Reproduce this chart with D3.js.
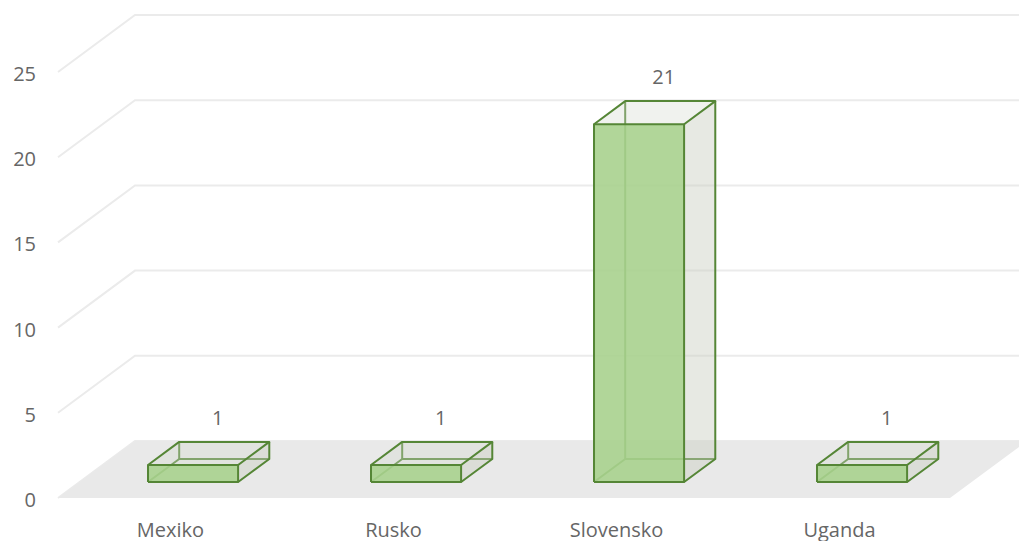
<!DOCTYPE html>
<html><head><meta charset="utf-8">
<script src="https://cdn.jsdelivr.net/npm/d3@7"></script>
<style>html,body{margin:0;padding:0;background:#fff;}svg{display:block;}</style>
</head><body>
<svg id="chart" width="1019" height="541"></svg>
<script>
const categories = ["Mexiko", "Rusko", "Slovensko", "Uganda"];
const values = [1, 1, 21, 1];
const yTicks = [0, 5, 10, 15, 20, 25];
const valueLabels = ["1", "1", "21", "1"];

const W = 1019, H = 541;
const svg = d3.select("#chart");
const DX = 77, DY = -57;          // depth projection of the floor
const Z0 = 0.28, Z1 = 0.685;       // bar depth range (fraction of floor)
const FONT = "'Open Sans', sans-serif";
const TEXT = "#666666";

const x = d3.scaleBand().domain(categories).range([58, 950])
  .paddingInner(0.596).paddingOuter(0.298).align(0.515);
const y = d3.scaleLinear().domain([0, 25]).range([498, 72]);
const P = (px, v, z) => [px + z * DX, y(v) + z * DY];
const line = d3.line();

// gridlines: side wall + back wall
const grid = svg.append("g");
yTicks.forEach(t => {
  const a = P(x.range()[0], t, 0), b = P(x.range()[0], t, 1), c = P(x.range()[1], t, 1);
  grid.append("path").attr("d", line([a, b, c]))
    .attr("fill", "none").attr("stroke", "#ebebeb").attr("stroke-width", 2);
});

// floor
const x0r = x.range()[0], x1r = x.range()[1];
svg.append("path")
  .attr("d", line([P(x0r, 0, 0), P(x1r, 0, 0), P(x1r, 0, 1), P(x0r, 0, 1)]) + "Z")
  .attr("fill", "#e9e9e9");

// y tick labels
svg.append("g").selectAll("text").data(yTicks).join("text")
  .attr("x", 36).attr("y", d => y(d) + 9)
  .attr("text-anchor", "end")
  .attr("font-family", FONT).attr("font-size", 20).attr("fill", TEXT)
  .text(d => d);

// bars
const STROKE = "#558636", SW = 2;
const bars = svg.append("g");
categories.forEach((c, i) => {
  const v = values[i];
  const a = x(c), b = a + x.bandwidth();
  const g = bars.append("g");
  const edge = (pts) => g.append("path").attr("d", line(pts))
    .attr("fill", "none").attr("stroke", STROKE).attr("stroke-width", SW)
    .attr("stroke-linejoin", "round");
  // hidden edges
  edge([P(a, v, Z1), P(a, 0, Z1), P(b, 0, Z1)]);
  edge([P(a, 0, Z0), P(a, 0, Z1)]);
  // right face
  g.append("path").attr("d", line([P(b, 0, Z0), P(b, 0, Z1), P(b, v, Z1), P(b, v, Z0)]) + "Z")
    .attr("fill", "#c9cfc2").attr("fill-opacity", 0.45);
  // top face
  g.append("path").attr("d", line([P(a, v, Z0), P(b, v, Z0), P(b, v, Z1), P(a, v, Z1)]) + "Z")
    .attr("fill", "#d5dbcf").attr("fill-opacity", 0.35);
  // front face
  g.append("path").attr("d", line([P(a, 0, Z0), P(b, 0, Z0), P(b, v, Z0), P(a, v, Z0)]) + "Z")
    .attr("fill", "#a9d18e").attr("fill-opacity", 0.9);
  // visible edges
  edge([P(a, 0, Z0), P(b, 0, Z0), P(b, v, Z0), P(a, v, Z0), P(a, 0, Z0)]);
  edge([P(a, v, Z0), P(a, v, Z1), P(b, v, Z1), P(b, v, Z0)]);
  edge([P(b, 0, Z0), P(b, 0, Z1), P(b, v, Z1)]);
});

// value labels
svg.append("g").selectAll("text").data(categories).join("text")
  .attr("x", (d) => P(x(d) + x.bandwidth() / 2, 0, 0.6)[0])
  .attr("y", (d, i) => P(0, values[i], 0.63)[1] - 20)
  .attr("text-anchor", "middle")
  .attr("font-family", FONT).attr("font-size", 20).attr("fill", TEXT)
  .text((d, i) => valueLabels[i]);

// category labels
svg.append("g").selectAll("text").data(categories).join("text")
  .attr("x", d => x(d) + x.bandwidth() / 2 - 1).attr("y", 536.5)
  .attr("text-anchor", "middle")
  .attr("font-family", FONT).attr("font-size", 20).attr("fill", TEXT)
  .text(d => d);
</script>
</body></html>
